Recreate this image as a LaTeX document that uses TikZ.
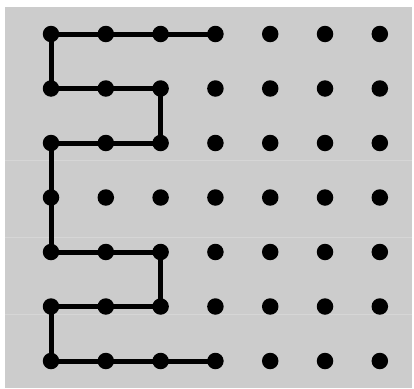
\documentclass[tikz,border=0pt]{standalone}
\definecolor{bg}{HTML}{CCCCCC}
\definecolor{seam}{HTML}{D6D6D6}
\begin{document}
\begin{tikzpicture}[x=1pt,y=-1pt,
  dot/.style={circle,fill=black,inner sep=0pt,minimum size=16.5pt},
  link/.style={line width=5pt,black}]
\useasboundingbox (0,0) rectangle (414,388);
\fill[bg] (5,7) rectangle (412,388);
\foreach \yy in {160,237,314}{\draw[seam,line width=0.8pt] (5,\yy) -- (412,\yy);}
\foreach \i in {0,...,6}{
  \foreach \j in {0,...,6}{
    \node[dot] (d\i\j) at ({51+54.8*\i},{34+54.5*\j}) {};
  }
}
\draw[link] (d30.center) -- (d00.center) -- (d01.center) -- (d21.center) -- (d22.center) -- (d02.center) -- (d04.center) -- (d24.center) -- (d25.center) -- (d05.center) -- (d06.center) -- (d36.center);
\end{tikzpicture}
\end{document}
